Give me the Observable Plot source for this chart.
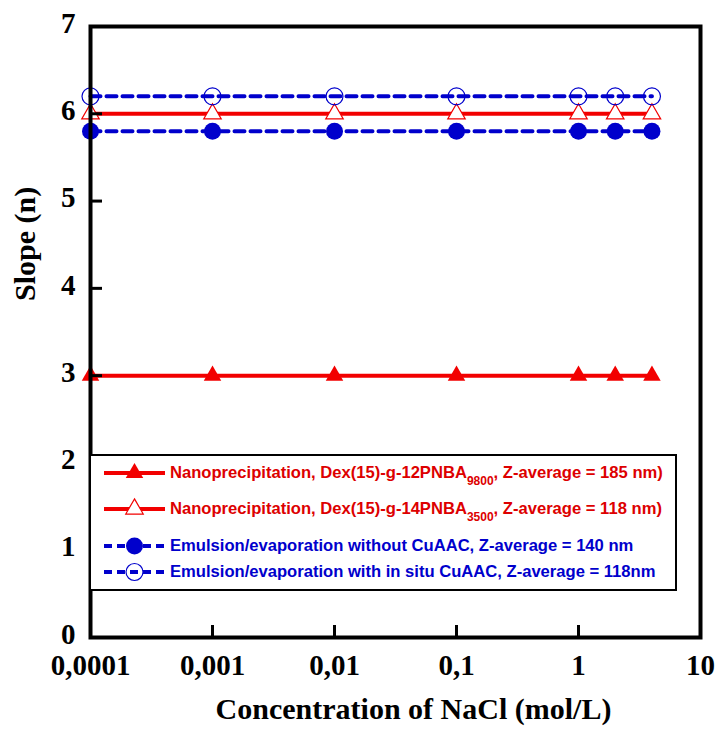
<!DOCTYPE html>
<html>
<head>
<meta charset="utf-8">
<script src="https://cdn.jsdelivr.net/npm/d3@7"></script>
<script src="https://cdn.jsdelivr.net/npm/@observablehq/plot@0.6"></script>
<style>
  html, body { margin: 0; padding: 0; background: white; }
  #wrap { position: relative; width: 716px; height: 731px; }
  #legend {
    position: absolute; left: 89px; top: 454px; width: 588px; height: 137px;
    box-sizing: border-box; border: 2px solid black; background: white;
    font-family: "Liberation Sans", Arial, sans-serif; font-weight: bold; font-size: 16.6px;
  }
  .row { position: absolute; left: 12px; height: 24px; display: flex; align-items: center; white-space: nowrap; }
  .row svg { flex: none; margin-right: 4px; }
  .row sub { font-size: 12px; position: relative; top: 7px; vertical-align: baseline; }
</style>
</head>
<body>
<div id="wrap"></div>
<script>
// ---- data ----
const concentrations = [0.0001, 0.001, 0.01, 0.1, 1, 2, 4];
const slopeNano12PNBA = [3, 3, 3, 3, 3, 3, 3];
const slopeNano14PNBA = [6, 6, 6, 6, 6, 6, 6];
const slopeEmulsionNoCuAAC = [5.8, 5.8, 5.8, 5.8, 5.8, 5.8, 5.8];
const slopeEmulsionCuAAC = [6.2, 6.2, 6.2, 6.2, 6.2, 6.2, 6.2];
const xTicks = [0.0001, 0.001, 0.01, 0.1, 1, 10];
const yTicks = [0, 1, 2, 3, 4, 5, 6, 7];
const xTitle = "Concentration of NaCl (mol/L)";
const yTitle = "Slope (n)";
const seriesNames = [
  ["Nanoprecipitation, Dex(15)-g-12PNBA", "9800", ", Z-average = 185 nm)"],
  ["Nanoprecipitation, Dex(15)-g-14PNBA", "3500", ", Z-average = 118 nm)"],
  ["Emulsion/evaporation without CuAAC, Z-average = 140 nm", "", ""],
  ["Emulsion/evaporation with in situ CuAAC, Z-average = 118nm", "", ""]
];

const RED = "#f20000";
const BLUE = "#0000cc";

const toRows = (ys) => concentrations.map((x, i) => ({x, y: ys[i]}));
const s1 = toRows(slopeNano12PNBA);
const s2 = toRows(slopeNano14PNBA);
const s3 = toRows(slopeEmulsionNoCuAAC);
const s4 = toRows(slopeEmulsionCuAAC);

const fmt = d => String(d).replace(".", ",");

const chart = Plot.plot({
  width: 716,
  height: 731,
  marginLeft: 90,
  marginRight: 16,
  marginTop: 26,
  marginBottom: 94,
  style: {
    fontFamily: "'Liberation Serif', 'Times New Roman', serif",
    fontSize: "29px",
    fontWeight: "bold",
    background: "white",
    overflow: "visible"
  },
  x: {type: "log", domain: [0.0001, 10]},
  y: {domain: [0, 7]},
  marks: [
    Plot.line(s1, {x: "x", y: "y", stroke: RED, strokeWidth: 4}),
    Plot.line(s2, {x: "x", y: "y", stroke: RED, strokeWidth: 4}),
    Plot.line(s3, {x: "x", y: "y", stroke: BLUE, strokeWidth: 4, strokeDasharray: "10,6"}),
    Plot.line(s4, {x: "x", y: "y", stroke: BLUE, strokeWidth: 4, strokeDasharray: "10,6"}),
    Plot.dot(s1, {x: "x", y: "y", symbol: "triangle", r: 6.5, fill: RED, stroke: "none"}),
    Plot.dot(s2, {x: "x", y: "y", symbol: "triangle", r: 6.5, fill: "white", stroke: RED, strokeWidth: 1.2}),
    Plot.dot(s3, {x: "x", y: "y", symbol: "circle", r: 8.5, fill: BLUE, stroke: "none"}),
    Plot.dot(s4, {x: "x", y: "y", symbol: "circle", r: 8.5, fill: "none", stroke: BLUE, strokeWidth: 1.2}),
    Plot.axisX({ticks: xTicks, tickFormat: fmt, tickSize: -12, tickPadding: 29, strokeWidth: 3, label: null, fontSize: 29}),
    Plot.axisY({ticks: yTicks, tickFormat: d => d, tickSize: -12, tickPadding: 27, strokeWidth: 3, label: null, fontSize: 29, textStroke: "none"}),
    Plot.frame({stroke: "black", strokeWidth: 4}),
    Plot.text([xTitle], {frameAnchor: "bottom", text: d => d, dx: 18, dy: 81, fontSize: 30, fontWeight: "bold"}),
    Plot.text([yTitle], {frameAnchor: "left", text: d => d, rotate: -90, dx: -65, dy: -31, fontSize: 30, fontWeight: "bold"})
  ]
});

// nudge y tick labels slightly upward, as in the reference
d3.select(chart).selectAll("g[aria-label='y-axis tick label']").attr("transform", function () {
  const t = this.getAttribute("transform") || "";
  return t + " translate(0,-3)";
});

const wrap = document.getElementById("wrap");
wrap.appendChild(chart);

// ---- legend ----
const legendStyles = [
  {color: RED, dash: null, symbol: "triangle", filled: true},
  {color: RED, dash: null, symbol: "triangle", filled: false},
  {color: BLUE, dash: "8,5", symbol: "circle", filled: true},
  {color: BLUE, dash: "8,5", symbol: "circle", filled: false}
];
const rowCenters = [19, 55, 92, 118];
const legend = document.createElement("div");
legend.id = "legend";
seriesNames.forEach((parts, i) => {
  const st = legendStyles[i];
  const row = document.createElement("div");
  row.className = "row";
  row.style.top = (rowCenters[i] - 2 - 12) + "px";
  const ns = "http://www.w3.org/2000/svg";
  const svg = document.createElementNS(ns, "svg");
  svg.setAttribute("width", 63); svg.setAttribute("height", 24);
  const ln = document.createElementNS(ns, "line");
  ln.setAttribute("x1", 1); ln.setAttribute("x2", 62); ln.setAttribute("y1", 12); ln.setAttribute("y2", 12);
  ln.setAttribute("stroke", st.color); ln.setAttribute("stroke-width", 4);
  if (st.dash) ln.setAttribute("stroke-dasharray", st.dash);
  svg.appendChild(ln);
  const sym = d3.symbol(st.symbol === "triangle" ? d3.symbolTriangle : d3.symbolCircle,
    st.symbol === "triangle" ? Math.PI * 6.5 * 6.5 : Math.PI * 8.5 * 8.5)();
  const p = document.createElementNS(ns, "path");
  p.setAttribute("d", sym);
  p.setAttribute("transform", "translate(31.5,12)");
  if (st.filled) { p.setAttribute("fill", st.color); }
  else { p.setAttribute("fill", st.symbol === "triangle" ? "white" : "none"); p.setAttribute("stroke", st.color); p.setAttribute("stroke-width", 1.2); }
  svg.appendChild(p);
  row.appendChild(svg);
  const span = document.createElement("span");
  span.style.color = st.color === RED ? "#dd0000" : BLUE;
  span.appendChild(document.createTextNode(parts[0]));
  if (parts[1]) { const sb = document.createElement("sub"); sb.textContent = parts[1]; span.appendChild(sb); }
  if (parts[2]) span.appendChild(document.createTextNode(parts[2]));
  row.appendChild(span);
  legend.appendChild(row);
});
wrap.appendChild(legend);
</script>
</body>
</html>
